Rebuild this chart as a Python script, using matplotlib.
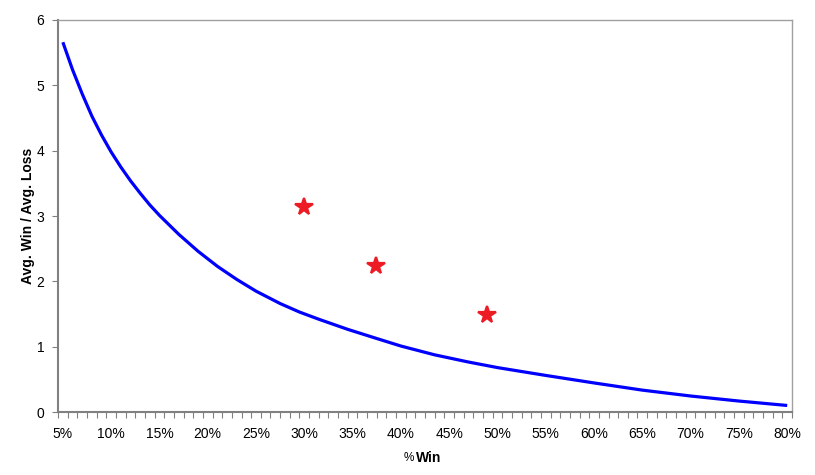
import numpy as np
import matplotlib
matplotlib.use("Agg")
from matplotlib import pyplot as plt

# break-even curve (win % -> avg win / avg loss)
curve_pct = [5, 6, 7, 8, 9, 10, 11, 12, 13, 14, 15, 17, 19, 21, 23, 25,
             27.5, 29.5, 31.5, 34.5, 37.5, 40, 43.5, 47, 50, 55, 60, 65, 70, 75, 80]
curve_val = [5.66, 5.24, 4.87, 4.53, 4.24, 3.98, 3.75, 3.54, 3.35, 3.17, 3.01, 2.72, 2.46, 2.23, 2.03, 1.85,
             1.66, 1.53, 1.42, 1.265, 1.125, 1.01, 0.875, 0.765, 0.68, 0.56, 0.445, 0.335, 0.245, 0.168, 0.10]

# actual systems (red stars)
sys_pct = [30.0, 37.4, 48.9]
sys_val = [3.14, 2.23, 1.48]

tick_pct = list(range(5, 81, 5))
tick_lbl = [f"{p}%" for p in tick_pct]

plt.rcParams['font.family'] = ['Liberation Sans', 'DejaVu Sans']

fig = plt.figure(figsize=(8.15, 4.75), dpi=100)
ax = fig.add_axes([0.0712, 0.1326, 0.9006, 0.8253])

ax.plot(curve_pct, curve_val, color='#0000FF', lw=2.3, solid_capstyle='butt',
        solid_joinstyle='round')
ax.plot(sys_pct, sys_val, ls='none', marker='*', ms=13, color='#ED1C24',
        mec='#ED1C24', mew=1.6, mfc='#ED1C24')

ax.set_xlim(4.5, 80.5)
ax.set_ylim(0, 6)
ax.set_yticks(range(0, 7))
ax.set_xticks(tick_pct)
ax.set_xticklabels(tick_lbl)
ax.set_xticks(np.arange(4.5, 80.6, 1), minor=True)
ax.tick_params(axis='x', which='major', length=0, pad=11, labelsize=10)
ax.tick_params(axis='x', which='minor', length=4, color='#808080', width=0.8)
ax.tick_params(axis='y', length=4, color='#808080', width=0.8, labelsize=10, pad=6)

for s in ['left', 'bottom']:
    ax.spines[s].set_color('#808080')
    ax.spines[s].set_linewidth(1.5)
for s in ['top', 'right']:
    ax.spines[s].set_color('#a0a0a0')
    ax.spines[s].set_linewidth(1.0)

ax.set_ylabel('Avg. Win / Avg. Loss', fontweight='bold', fontsize=10, labelpad=1)
# "%" is plain, "Win" is bold in the original
fig.text(414 / 815, 1 - 458 / 475, '%', ha='right', va='center', fontsize=8.5)
fig.text(416 / 815, 1 - 458 / 475, 'Win', ha='left', va='center', fontsize=10,
         fontweight='bold')

fig.savefig('out.png', dpi=100)
